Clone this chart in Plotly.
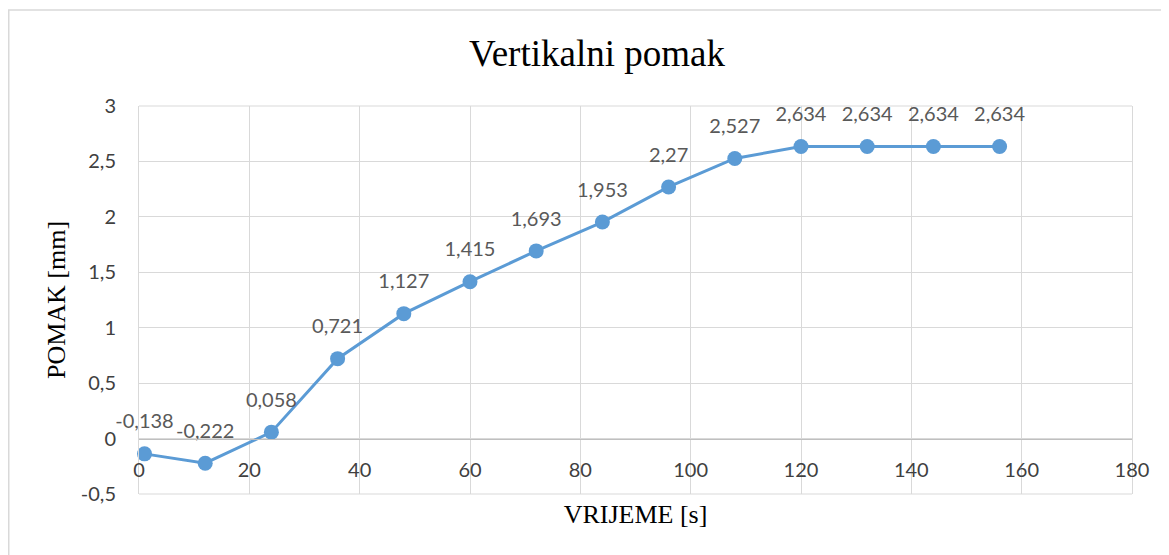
import plotly.graph_objects as go

# Data
vrijeme = [1, 12, 24, 36, 48, 60, 72, 84, 96, 108, 120, 132, 144, 156]
pomak = [-0.138, -0.222, 0.058, 0.721, 1.127, 1.415, 1.693, 1.953, 2.27, 2.527, 2.634, 2.634, 2.634, 2.634]
x_ticks = [0, 20, 40, 60, 80, 100, 120, 140, 160, 180]
y_ticks = [-0.5, 0, 0.5, 1, 1.5, 2, 2.5, 3]
y_tick_text = ["-0,5", "0", "0,5", "1", "1,5", "2", "2,5", "3"]
title_text = "Vertikalni pomak"
x_title = "VRIJEME [s]"
y_title = "POMAK [mm]"

BLUE = "#5b9bd5"
GRID = "#d9d9d9"
TICKFONT = dict(family="Lato, Liberation Sans, sans-serif", size=20, color="#404040")
SERIF = "Liberation Serif, Times New Roman, serif"

W, H = 1161, 547
L, R, T, B = 131, 37, 98, 61
PW, PH = W - L - R, H - T - B

fig = go.Figure()
fig.add_trace(go.Scatter(
    x=vrijeme, y=pomak, mode="lines+markers",
    line=dict(color=BLUE, width=3),
    marker=dict(color=BLUE, size=15),
    showlegend=False, hoverinfo="skip", cliponaxis=False,
))
# labels trace (transparent markers give the label offset above the points)
fig.add_trace(go.Scatter(
    x=vrijeme, y=pomak, mode="markers+text",
    marker=dict(color="rgba(0,0,0,0)", size=31),
    texttemplate="%{y:.3~f}", textposition="top center",
    textfont=dict(family="Lato, Liberation Sans, sans-serif", size=20, color="#595959"),
    showlegend=False, cliponaxis=False,
))

fig.update_layout(
    width=W, height=H,
    margin=dict(l=L, r=R, t=T, b=B),
    paper_bgcolor="white", plot_bgcolor="white",
    separators=", ",
    title=dict(text=title_text, x=589 / W, xref="container", xanchor="center",
               y=1 - 45 / H, yref="container", yanchor="middle",
               font=dict(family=SERIF, size=37, color="black")),
    xaxis=dict(
        range=[0, 180], tickvals=x_ticks, ticktext=[str(v) for v in x_ticks],
        showgrid=True, gridcolor=GRID, gridwidth=1,
        zeroline=False,
        showline=True, linecolor="#bfbfbf", linewidth=1,
        anchor="free", position=0.5 / 3.5,
        ticks="outside", ticklen=13, tickcolor="rgba(0,0,0,0)",
        tickfont=TICKFONT,
        title=dict(text=x_title, font=dict(family=SERIF, size=26, color="black"), standoff=25),
    ),
    yaxis=dict(
        range=[-0.5, 3], tickvals=y_ticks, ticktext=y_tick_text,
        showgrid=True, gridcolor=GRID, gridwidth=1,
        zeroline=False,
        showline=True, linecolor=GRID, mirror=True,
        ticks="outside", ticklen=18, tickcolor="rgba(0,0,0,0)",
        tickfont=TICKFONT,
        title=dict(text=y_title, font=dict(family=SERIF, size=26, color="black"), standoff=7),
    ),
    shapes=[
        dict(type="rect", xref="paper", yref="paper",
             x0=(0.75 - L) / PW, x1=(W + 10 - L) / PW,
             y0=(PH + T - (H + 10)) / PH, y1=(PH + T - 2) / PH,
             line=dict(color=GRID, width=1.5), fillcolor="rgba(0,0,0,0)", layer="below"),
        dict(type="line", xref="paper", yref="paper", x0=0, x1=1, y0=0, y1=0,
             line=dict(color=GRID, width=1)),
        dict(type="line", xref="paper", yref="paper", x0=0, x1=1, y0=1, y1=1,
             line=dict(color=GRID, width=1)),
    ],
)

fig.write_html("out.html")
